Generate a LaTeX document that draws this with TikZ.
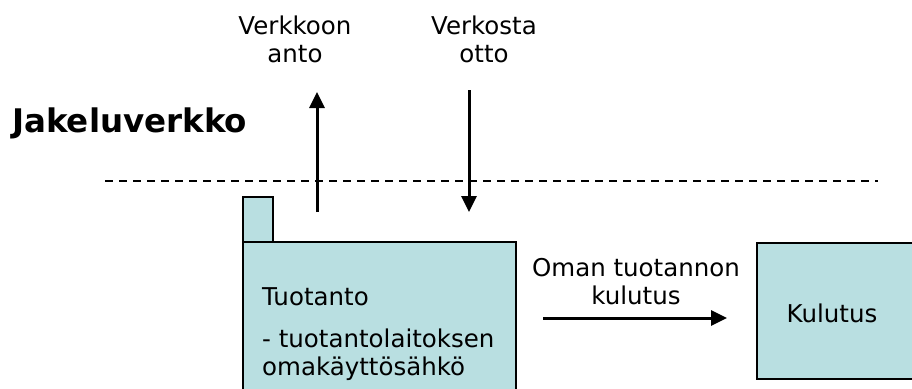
\documentclass[tikz,border=0pt]{standalone}
\usepackage{fontspec}
\setmainfont{DejaVu Sans}
\usetikzlibrary{arrows.meta}
\definecolor{boxfill}{RGB}{185,223,225}
\tikzset{
  blk/.style={draw=black, line width=1.6pt, fill=boxfill, inner sep=0pt, anchor=north west},
  flow/.style={line width=3pt, -{Triangle[width=15pt,length=16pt]}},
  lbl/.style={font=\fontsize{24.5}{28}\selectfont, align=center, inner sep=0pt},
}
\begin{document}
\begin{tikzpicture}[x=1pt,y=-1pt]
\useasboundingbox (0,0) rectangle (912,388);
% title
\node[font=\fontsize{32.5}{36}\selectfont\bfseries, anchor=west, inner sep=0pt] (title) at (12,123) {Jakeluverkko};
% dashed network line
\coordinate (dl) at (105,181);
\coordinate (dr) at (878,181);
\draw[line width=1.4pt, dash pattern=on 8pt off 6pt] (dl) -- (dr);
% boxes
\node[blk, minimum width=30pt, minimum height=46pt] (chim) at (242,196) {};
\node[blk, minimum width=273pt, minimum height=170pt] (tuo) at (242,241) {};
\node[blk, minimum width=160pt, minimum height=136pt] (kul) at (756,242) {};
% texts
\node[lbl, anchor=west] (tuot) at (262,297) {Tuotanto};
\node[lbl, anchor=west, align=left] (tuod) at (262,355) {- tuotantolaitoksen\\omakäyttösähkö};
\node[lbl] (kult) at (832,313) {Kulutus};
\node[lbl] (anto) at (295,39) {Verkkoon\\anto};
\node[lbl] (otto) at (484,39) {Verkosta\\otto};
\node[lbl] (oma) at (636,282) {Oman tuotannon\\kulutus};
% arrows
\coordinate (a1s) at (317,212);
\coordinate (a1e) at (317,92);
\coordinate (a2s) at (469,90);
\coordinate (a2e) at (469,212);
\coordinate (a3s) at (543,318);
\coordinate (a3e) at (727,318);
\draw[flow] (a1s) -- (a1e);
\draw[flow] (a2s) -- (a2e);
\draw[flow] (a3s) -- (a3e);
\end{tikzpicture}
\end{document}
